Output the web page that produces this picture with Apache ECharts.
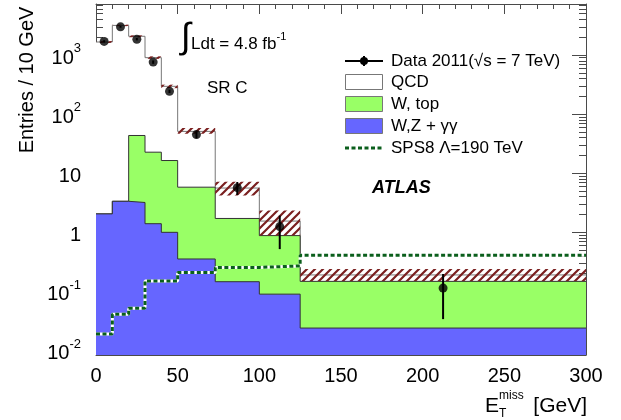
<!DOCTYPE html>
<html>
<head>
<meta charset="utf-8">
<script src="https://cdn.jsdelivr.net/npm/echarts@6/dist/echarts.min.js"></script>
<style>
    html, body { margin: 0; padding: 0; background: #fff; }
    #chart { width: 621px; height: 420px; }
</style>
</head>
<body>
<div id="chart"></div>
<script>
// bin edges in GeV (last one closes the final bin)
const binEdges = [0, 10, 20, 30, 40, 50, 73, 100, 125, 300];

// background components, entries / 10 GeV
const wzgg = [2.05, 3.35, 3.2, 1.4, 1.0, 0.354, 0.146, 0.09, 0.024];
const wtop = [0, 0, 40.3, 21.3, 15.4, 5.45, 1.57, 0.79, 0.124];
const qcd = [1658, 3167, 2031, 880, 279, 45.2, 3.9, 0.67, 0.042];

// uncertainty band on the total background
const bandLo = [1600, 3080, 2000, 860, 275, 46.5, 4.2, 0.88, 0.15];
const bandHi = [1720, 3260, 2150, 950, 315, 58, 7.2, 2.33, 0.24];

// signal point
const sps8 = [0.019, 0.041, 0.052, 0.15, 0.15, 0.21, 0.255, 0.27, 0.41];

// data 2011
const dataX = [5, 15, 25, 35, 45, 61.5, 86.5, 112.5, 212.5];
const dataY = [1700, 3000, 1850, 760, 243, 45, 5.7, 1.25, 0.114];
const dataLo = [1620, 2900, 1770, 710, 228, 39, 4.3, 0.52, 0.034];
const dataHi = [1780, 3110, 1940, 810, 259, 51, 7.1, 1.92, 0.197];

// y tick labels
const yLabelExp = [-2, -1, 0, 1, 2, 3];
const yLabelBase = ['10', '10', '1', '10', '10', '10'];
const yLabelSup = ['-2', '-1', '', '', '2', '3'];

const FONT = '"Liberation Sans", Arial, Helvetica, sans-serif';

// stacked tops (drawn back to front, each filled down to the axis)
const topBlue = wzgg;
const topGreen = wzgg.map((v, i) => v + wtop[i]);
const topTotal = topGreen.map((v, i) => v + qcd[i]);

// histogram -> step points
function toSteps(vals) {
    return binEdges.map((e, i) => [e, vals[Math.min(i, vals.length - 1)]]);
}

// hatch pattern for the band
function makeHatch() {
    const c = document.createElement('canvas');
    c.width = 8;
    c.height = 8;
    const ctx = c.getContext('2d');
    ctx.strokeStyle = '#7a1f1f';
    ctx.lineWidth = 2.2;
    ctx.beginPath();
    ctx.moveTo(-1, 9); ctx.lineTo(9, -1);
    ctx.moveTo(-1, 1); ctx.lineTo(1, -1);
    ctx.moveTo(7, 9); ctx.lineTo(9, 7);
    ctx.stroke();
    return c;
}
const hatch = makeHatch();

const chart = echarts.init(document.getElementById('chart'));

const axisLineStyle = { color: '#4a4a4a', width: 1 };

function xAx(pos, labels) {
    return {
        type: 'value', position: pos, min: 0, max: 300, interval: 50,
        axisLine: { show: true, onZero: false, lineStyle: axisLineStyle },
        axisTick: { show: true, inside: true, length: 10, lineStyle: axisLineStyle },
        minorTick: { show: true, splitNumber: 5, length: 5, lineStyle: axisLineStyle },
        axisLabel: { show: labels, fontSize: 20, fontFamily: FONT, color: '#000', margin: 11 },
        splitLine: { show: false }
    };
}

function yAx(pos, labels) {
    return {
        type: 'log', logBase: 10, position: pos, min: 0.0084, max: 7300,
        axisLine: { show: true, onZero: false, lineStyle: axisLineStyle },
        axisTick: { show: true, inside: true, length: 14, lineStyle: axisLineStyle },
        minorTick: { show: true, splitNumber: 9, length: 7, lineStyle: axisLineStyle },
        splitLine: { show: false },
        axisLabel: {
            show: labels, margin: 15,
            formatter: v => {
                const e = Math.log10(v);
                const i = yLabelExp.findIndex(x => Math.abs(x - e) < 1e-6);
                if (i < 0) return '';
                return yLabelSup[i] ? `{b|${yLabelBase[i]}}{s|${yLabelSup[i]}}` : `{b|${yLabelBase[i]}}`;
            },
            rich: {
                b: { fontSize: 20, fontFamily: FONT, color: '#000', lineHeight: 26, verticalAlign: 'bottom' },
                s: { fontSize: 13, fontFamily: FONT, color: '#000', lineHeight: 15, verticalAlign: 'top' }
            }
        }
    };
}

function histSeries(name, vals, fill, edge, z) {
    return {
        name: name, type: 'line', step: 'end', z: z,
        data: toSteps(vals), symbol: 'none', silent: true,
        lineStyle: { color: edge, width: 1 },
        areaStyle: { color: fill, opacity: 1, origin: 'start' },
        itemStyle: { color: fill }
    };
}

const graphics = [
    // y axis title
    {
        type: 'text', x: 27, y: 80, rotation: Math.PI / 2,
        style: { text: 'Entries / 10 GeV', font: '20px ' + FONT, fill: '#000', textAlign: 'center', textVerticalAlign: 'middle' }
    },
    // x axis title
    { type: 'text', x: 485, y: 406, style: { text: 'E', font: '21px ' + FONT, fill: '#000', textVerticalAlign: 'middle' } },
    { type: 'text', x: 499, y: 396, style: { text: 'miss', font: '12px ' + FONT, fill: '#000', textVerticalAlign: 'middle' } },
    { type: 'text', x: 499, y: 414, style: { text: 'T', font: '12px ' + FONT, fill: '#000', textVerticalAlign: 'middle' } },
    { type: 'text', x: 587, y: 406, style: { text: '[GeV]', font: '21px ' + FONT, fill: '#000', textAlign: 'right', textVerticalAlign: 'middle' } },
    // luminosity
    { type: 'text', x: 181, y: 38, style: { text: '∫', font: '36px ' + FONT, fill: '#000', textVerticalAlign: 'middle' } },
    {
        type: 'text', x: 191, y: 42,
        style: {
            text: '{a|Ldt = 4.8 fb}{s|-1}', textVerticalAlign: 'middle',
            rich: {
                a: { font: '17px ' + FONT, fill: '#000', lineHeight: 22, verticalAlign: 'bottom' },
                s: { font: '11px ' + FONT, fill: '#000', lineHeight: 12, verticalAlign: 'top' }
            }
        }
    },
    { type: 'text', x: 207, y: 88, style: { text: 'SR C', font: '17px ' + FONT, fill: '#000', textVerticalAlign: 'middle' } },
    { type: 'text', x: 372, y: 188, style: { text: 'ATLAS', font: 'italic bold 18px ' + FONT, fill: '#000', textVerticalAlign: 'middle' } },
    // legend
    { type: 'line', shape: { x1: 345, y1: 61, x2: 383, y2: 61 }, style: { stroke: '#000', lineWidth: 2 } },
    { type: 'line', shape: { x1: 364, y1: 56, x2: 364, y2: 66 }, style: { stroke: '#000', lineWidth: 2 } },
    { type: 'circle', shape: { cx: 364, cy: 61, r: 4 }, style: { fill: '#000' } },
    { type: 'rect', shape: { x: 345.5, y: 74.5, width: 37, height: 15 }, style: { fill: '#fff', stroke: '#777', lineWidth: 1 } },
    { type: 'rect', shape: { x: 345.5, y: 96.5, width: 37, height: 15 }, style: { fill: '#99ff66', stroke: '#777', lineWidth: 1 } },
    { type: 'rect', shape: { x: 345.5, y: 118.5, width: 37, height: 15 }, style: { fill: '#6666ff', stroke: '#777', lineWidth: 1 } },
    { type: 'line', shape: { x1: 345, y1: 148, x2: 383, y2: 148 }, style: { stroke: '#0b5f1c', lineWidth: 3, lineDash: [4, 2.5] } },
    { type: 'text', x: 391, y: 61, style: { text: 'Data 2011(√s = 7 TeV)', font: '17px ' + FONT, fill: '#000', textVerticalAlign: 'middle' } },
    { type: 'text', x: 391, y: 82, style: { text: 'QCD', font: '17px ' + FONT, fill: '#000', textVerticalAlign: 'middle' } },
    { type: 'text', x: 391, y: 104, style: { text: 'W, top', font: '17px ' + FONT, fill: '#000', textVerticalAlign: 'middle' } },
    { type: 'text', x: 391, y: 126, style: { text: 'W,Z + γγ', font: '17px ' + FONT, fill: '#000', textVerticalAlign: 'middle' } },
    { type: 'text', x: 391, y: 148, style: { text: 'SPS8 Λ=190 TeV', font: '17px ' + FONT, fill: '#000', textVerticalAlign: 'middle' } }
];
graphics.forEach(g => { g.z = 100; });

const option = {
    animation: false,
    backgroundColor: '#fff',
    grid: { left: 96, right: 35, top: 4, bottom: 65 },
    xAxis: [xAx('bottom', true), xAx('top', false)],
    yAxis: [yAx('left', true), yAx('right', false)],
    series: [
        histSeries('QCD', topTotal, '#ffffff', '#777', 1),
        histSeries('W, top', topGreen, '#99ff66', '#333', 2),
        histSeries('W,Z + γγ', topBlue, '#6666ff', '#333', 3),
        {
            name: 'band', type: 'custom', z: 4, silent: true,
            data: bandLo.map((lo, i) => [binEdges[i], binEdges[i + 1], lo, bandHi[i]]),
            encode: { x: [0, 1], y: [2, 3] },
            renderItem: (params, api) => {
                const p0 = api.coord([api.value(0), api.value(3)]);
                const p1 = api.coord([api.value(1), api.value(2)]);
                return {
                    type: 'rect',
                    shape: { x: p0[0], y: p0[1], width: p1[0] - p0[0], height: p1[1] - p0[1] },
                    style: { fill: { image: hatch, repeat: 'repeat' } }
                };
            }
        },
        {
            name: 'sps8-under', type: 'line', step: 'end', data: toSteps(sps8),
            symbol: 'none', silent: true, z: 5,
            lineStyle: { color: '#fff', width: 3 }
        },
        {
            name: 'SPS8 Λ=190 TeV', type: 'line', step: 'end', data: toSteps(sps8),
            symbol: 'none', silent: true, z: 6,
            lineStyle: { color: '#0b5f1c', width: 3, type: [4, 2.5] }
        },
        {
            name: 'errors', type: 'custom', z: 7, silent: true,
            data: dataX.map((x, i) => [x, dataLo[i], dataHi[i]]),
            encode: { x: 0, y: [1, 2] },
            renderItem: (params, api) => {
                const a = api.coord([api.value(0), api.value(1)]);
                const b = api.coord([api.value(0), api.value(2)]);
                return {
                    type: 'line',
                    shape: { x1: a[0], y1: a[1], x2: b[0], y2: b[1] },
                    style: { stroke: '#000', lineWidth: 2 }
                };
            }
        },
        {
            name: 'Data 2011', type: 'scatter', z: 8, silent: true,
            data: dataX.map((x, i) => [x, dataY[i]]),
            symbol: 'circle', symbolSize: 9,
            itemStyle: { color: '#000' }
        }
    ],
    graphic: graphics
};

chart.setOption(option);
</script>
</body>
</html>
